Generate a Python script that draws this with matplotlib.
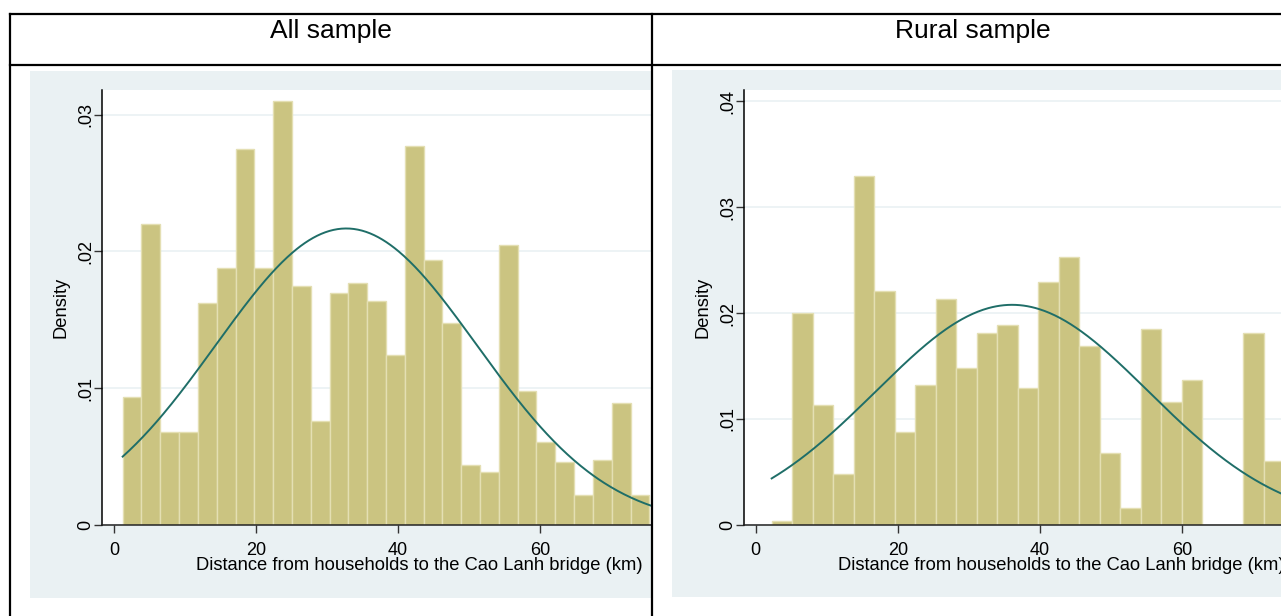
import numpy as np
import matplotlib
matplotlib.use("Agg")
import matplotlib.pyplot as plt
from matplotlib.lines import Line2D
from matplotlib.patches import Rectangle

plt.rcParams['font.family'] = ['Liberation Sans', 'DejaVu Sans']

# ---------------- data ----------------
panel_titles = ["All sample", "Rural sample"]
x_label = "Distance from households to the Cao Lanh bridge (km)"
y_label = "Density"

# All sample histogram
all_bin_start = 1.21
all_bin_width = 2.649
all_density = [0.0094, 0.0220, 0.0068, 0.0068, 0.0162, 0.0188, 0.0275, 0.0188,
               0.0310, 0.0175, 0.0076, 0.0170, 0.0177, 0.0164, 0.0124, 0.0277,
               0.0194, 0.0148, 0.0044, 0.0039, 0.0205, 0.0098, 0.0061, 0.0046,
               0.0022, 0.0048, 0.0089, 0.0022]
all_mean, all_sd = 32.7, 18.4

# Rural sample histogram
rural_bin_start = 2.24
rural_bin_width = 2.887
rural_density = [0.0004, 0.0200, 0.0113, 0.0048, 0.0329, 0.0221, 0.0088, 0.0132,
                 0.0213, 0.0148, 0.0181, 0.0189, 0.0129, 0.0229, 0.0253, 0.0169,
                 0.0068, 0.0016, 0.0185, 0.0116, 0.0137, 0.0, 0.0, 0.0181, 0.0060]
rural_mean, rural_sd = 36.1, 19.2

x_ticks = [0, 20, 40, 60]
all_y_ticks = [0, 0.01, 0.02, 0.03]
rural_y_ticks = [0, 0.01, 0.02, 0.03, 0.04]
all_y_ticklabels = ["0", ".01", ".02", ".03"]
rural_y_ticklabels = ["0", ".01", ".02", ".03", ".04"]

# ---------------- styling ----------------
W, H = 1281, 616
BG = '#EAF1F3'
BAR = '#CBC481'
BAR_EDGE = '#E4DFB3'
CURVE = '#1F6E68'

fig = plt.figure(figsize=(W / 100, H / 100), dpi=100)
fig.patch.set_facecolor('white')


def fx(px):
    return px / W


def fy(py):
    return 1 - py / H


# light blue graph regions
fig.add_artist(Rectangle((fx(30), fy(598)), fx(652) - fx(30), fy(71) - fy(598),
                         transform=fig.transFigure, facecolor=BG, edgecolor='none', zorder=-10))
fig.add_artist(Rectangle((fx(672), fy(597)), fx(1281) - fx(672), fy(69.5) - fy(597),
                         transform=fig.transFigure, facecolor=BG, edgecolor='none', zorder=-10))

# table lines
for y in (14, 65):
    fig.add_artist(Line2D([fx(10), fx(1281)], [fy(y), fy(y)], color='black', lw=1.6,
                          transform=fig.transFigure, zorder=5))
for x in (10, 652):
    fig.add_artist(Line2D([fx(x), fx(x)], [fy(14), fy(616)], color='black', lw=1.6,
                          transform=fig.transFigure, zorder=5))

# titles
fig.text(fx(331), fy(31), panel_titles[0], ha='center', va='center', fontsize=19)
fig.text(fx(973), fy(31), panel_titles[1], ha='center', va='center', fontsize=19)


def make_panel(rect_px, xlim, ylim, start, width, dens, mu, sd, yticks, yticklabels):
    x0, y0, x1, y1 = rect_px
    ax = fig.add_axes([fx(x0), fy(y1), fx(x1) - fx(x0), fy(y0) - fy(y1)])
    ax.set_zorder(1)
    ax.set_facecolor('white')
    edges = start + width * np.arange(len(dens))
    ax.bar(edges, dens, width=width, align='edge', color=BAR, edgecolor=BAR_EDGE,
           linewidth=1.0, zorder=2)
    xs = np.linspace(start, xlim[1] + 2, 400)
    ys = np.exp(-0.5 * ((xs - mu) / sd) ** 2) / (sd * np.sqrt(2 * np.pi))
    ax.plot(xs, ys, color=CURVE, lw=1.4, zorder=3)
    ax.set_xlim(*xlim)
    ax.set_ylim(*ylim)
    ax.set_xticks(x_ticks)
    ax.set_yticks(yticks)
    ax.set_yticklabels(yticklabels)
    ax.tick_params(axis='both', labelsize=13, length=6, width=1, colors='#333333',
                   labelcolor='black')
    ax.tick_params(axis='y', pad=6)
    ax.tick_params(axis='x', pad=6)
    for t in ax.get_yticklabels():
        t.set_rotation(90)
        t.set_va('center')
        t.set_ha('center')
    ax.grid(axis='y', color=BG, lw=1.2, zorder=1)
    ax.set_axisbelow(True)
    for s in ('top', 'right'):
        ax.spines[s].set_visible(False)
    ax.spines['left'].set_color('black')
    ax.spines['bottom'].set_color('#222222')
    ax.spines['left'].set_linewidth(1.1)
    ax.spines['bottom'].set_linewidth(1.1)
    return ax


make_panel((102.3, 90, 651, 525.2), (-1.66, 75.62), (0, 0.0318),
           all_bin_start, all_bin_width, all_density, all_mean, all_sd,
           all_y_ticks, all_y_ticklabels)
make_panel((744.4, 90, 1281, 524.9), (-1.6, 73.97), (0, 0.04106),
           rural_bin_start, rural_bin_width, rural_density, rural_mean, rural_sd,
           rural_y_ticks, rural_y_ticklabels)

# axis titles
fig.text(fx(196.5), fy(566), x_label, ha='left', va='center', fontsize=13.2)
fig.text(fx(838.2), fy(566), x_label, ha='left', va='center', fontsize=13.2)
fig.text(fx(61), fy(307), y_label, ha='center', va='center', rotation=90, fontsize=13.2)
fig.text(fx(703), fy(307), y_label, ha='center', va='center', rotation=90, fontsize=13.2)

fig.savefig('out.png', dpi=100)
